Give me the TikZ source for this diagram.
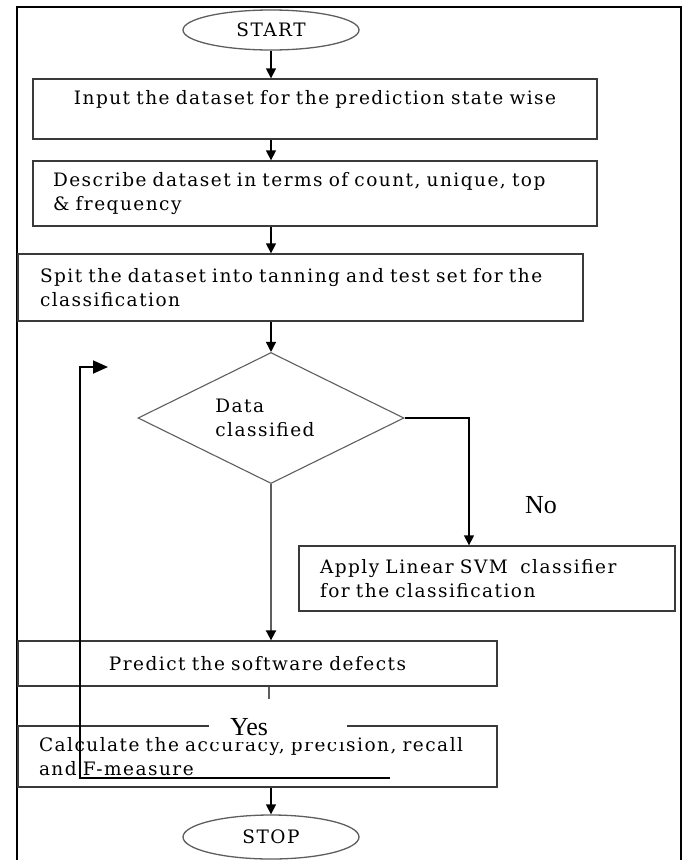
\documentclass[tikz,border=0pt]{standalone}
\usepackage{fontspec}
\setmainfont[LetterSpace=8]{DejaVu Serif}
\newfontfamily\labelfont{Liberation Serif}
\usetikzlibrary{shapes.geometric}
\usetikzlibrary{arrows.meta}
\definecolor{edge}{HTML}{3A3A3A}
\definecolor{pale}{HTML}{5E5E5E}
\tikzset{
  % A process step: plain box, text set from the left
  stepbox/.style={
    draw=edge, fill=white, rectangle, line width=1.3pt, align=left,
    inner ysep=2pt},
  % START and STOP
  terminal/.style={
    draw=pale, fill=white, ellipse, line width=1.3pt, inner sep=0pt,
    minimum width=176pt},
  % The test on the data
  decision/.style={
    draw=pale, diamond, line width=1.1pt, inner sep=0pt, align=left,
    minimum width=266pt, minimum height=131pt},
  % Connectors
  flow/.style={-{Triangle[length=10pt,width=10pt]}, draw=black, line width=1.3pt},
  grayflow/.style={-{Triangle[length=10pt,width=10pt,black]}, draw=pale, line width=1.8pt},
  loopback/.style={-{Triangle[length=15pt,width=13pt]}, draw=black, line width=1.8pt},
  frameline/.style={draw=black, line width=2.6pt},
  lbl/.style={font=\labelfont\fontsize{26}{28}\selectfont, inner sep=0pt},
}

\begin{document}
\begin{tikzpicture}[x=1pt, y=-1pt, font=\fontsize{18.5}{24}\selectfont]
  \useasboundingbox (0,0) rectangle (682,860);
  \draw[frameline] (17,875) -- (17,7) -- (681,7) -- (681,875);

  \node[terminal, minimum height=40pt] (start) at (271,30) {START};
  \node[stepbox, text width=524pt, inner xsep=20pt, minimum height=60pt, align=center]
    (input) at (315,109) {Input the dataset for the prediction state wise\\\mbox{}};
  \node[stepbox, text width=524pt, inner xsep=20pt, minimum height=65pt]
    (describe) at (315,193.5) {Describe dataset in terms of count, unique, top\\\& frequency};
  \node[stepbox, text width=521pt, inner xsep=22pt, minimum height=67pt]
    (split) at (300.5,287.5) {Spit the dataset into tanning and test set for the\\classification};
  \node[decision] (decide) at (271,418) {\hspace*{-12pt}Data\\\hspace*{-12pt}classified};
  \node[stepbox, text width=334pt, inner xsep=21pt, minimum height=65pt]
    (svm) at (487,578.5) {Apply Linear SVM \ classifier\\for the classification};
  \node[stepbox, text width=439pt, inner xsep=20pt, minimum height=45pt, align=center]
    (predict) at (257.5,663.5) {Predict the software defects};
  \node[stepbox, text width=437pt, inner xsep=21pt, minimum height=61pt]
    (calc) at (257.5,756.5) {Calculate the accuracy, precision, recall\\and F-measure};
  \node[terminal, minimum height=44pt] (stop) at (271,837) {STOP};

  \draw[flow] (start.south) -- (start.south |- input.north);
  \draw[flow] (input.south -| start) -- (describe.north -| start);
  \draw[flow] (describe.south -| start) -- (split.north -| start);
  \draw[flow] (split.south -| decide) -- (decide.north);

  \coordinate (noturn) at (469,418);
  \draw[flow] (decide.east) -- (noturn) -- (noturn |- svm.north);
  \node[lbl] (nolbl) at (541,505) {No};

  \draw[grayflow] (decide.south) -- (decide.south |- predict.north);
  \coordinate (stubend) at (269,699);
  \draw[draw=pale, line width=1.6pt] (predict.south -| stubend) -- (stubend);
  \node[lbl, fill=white, anchor=west, text width=138pt, align=left, minimum height=30pt]
    (yeslbl) at (209,727) {\hspace*{21pt}Yes};
  \draw[flow] (calc.south -| stop) -- (stop.north);

  \coordinate (loopend) at (390,778);
  \coordinate (loopbase) at (80,778);
  \coordinate (looptip) at (108,367);
  \draw[loopback] (loopend) -- (loopbase) |- (looptip);
\end{tikzpicture}
\end{document}
